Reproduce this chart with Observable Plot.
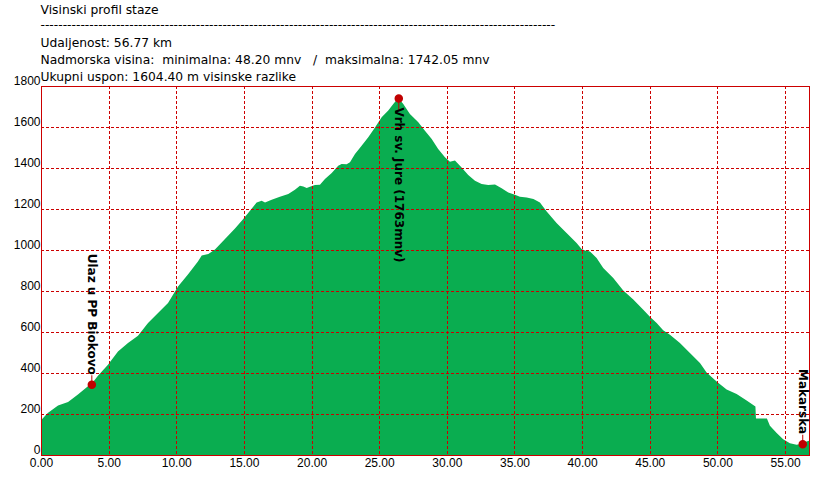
<!DOCTYPE html>
<html><head><meta charset="utf-8">
<script src="https://cdn.jsdelivr.net/npm/d3@7"></script>
<script src="https://cdn.jsdelivr.net/npm/@observablehq/plot@0.6"></script>
<style>body{margin:0;background:#fff} svg{display:block} svg text{white-space:pre}</style>
</head><body><div id="chart"></div>
<script>
const distanceKm = [0, 0.5, 1.26, 2.0, 2.73, 3.47, 3.72, 4.21, 4.95, 5.69,
  6.43, 7.17, 7.91, 8.65, 9.39, 10.13, 10.86, 11.6, 11.88, 12.37,
  12.86, 13.6, 14.34, 14.95, 15.45, 15.94, 16.31, 16.56, 17.05, 17.66,
  18.28, 18.77, 19.14, 19.39, 19.64, 19.88, 20.25, 20.62, 20.99, 21.49,
  21.97, 22.22, 22.59, 22.84, 23.21, 23.7, 24.19, 24.69, 25.18, 25.67,
  26.04, 26.41, 26.78, 27.27, 27.89, 28.38, 28.88, 29.36, 29.86, 30.23,
  30.6, 31.09, 31.58, 32.08, 32.57, 33.06, 33.56, 34.05, 34.54, 35.03,
  35.4, 35.9, 36.4, 36.88, 37.38, 38.11, 38.85, 39.59, 39.96, 40.21,
  40.58, 41.07, 41.56, 42.3, 43.04, 43.78, 44.52, 45.01, 45.51, 45.99,
  46.49, 47.23, 47.97, 48.71, 49.2, 49.94, 50.68, 51.42, 52.16, 52.81,
  52.85, 53.66, 53.88, 54.38, 54.86, 55.36, 55.85, 56.27, 56.59, 56.77];
const elevationM = [170, 205, 242, 258, 295, 335, 345, 387, 440, 505,
  546, 582, 644, 693, 741, 822, 880, 944, 973, 980,
  1003, 1054, 1105, 1151, 1192, 1232, 1240, 1232, 1245, 1260,
  1273, 1294, 1313, 1310, 1302, 1309, 1317, 1318, 1346, 1376,
  1411, 1420, 1418, 1428, 1468, 1509, 1550, 1598, 1647, 1680,
  1712, 1742, 1712, 1663, 1623, 1582, 1541, 1493, 1452, 1431,
  1436, 1403, 1366, 1338, 1322, 1317, 1320, 1301, 1281, 1270,
  1260, 1256, 1249, 1232, 1188, 1132, 1083, 1034, 1005, 998,
  993, 961, 912, 863, 802, 758, 709, 675, 644, 608,
  587, 546, 498, 449, 403, 359, 319, 298, 266, 236,
  178, 178, 143, 107, 77, 57, 50, 55, 66, 70];

const placeNames = ["Ulaz u PP Biokovo", "Vrh sv. Jure (1763mnv)", "Makarska"];
const placeKm = [3.72, 26.41, 56.27];
const placeElev = [345, 1742, 55];
const placeBelow = [false, true, false];

const xTicks = [0, 5, 10, 15, 20, 25, 30, 35, 40, 45, 50, 55];
const yTicks = [0, 200, 400, 600, 800, 1000, 1200, 1400, 1600, 1800];

const headerTitle = "Visinski profil staze";
const headerRule = "-".repeat(116);
const headerDistance = "Udaljenost: 56.77 km";
const headerAltitude = "Nadmorska visina:  minimalna: 48.20 mnv   /  maksimalna: 1742.05 mnv";
const headerClimb = "Ukupni uspon: 1604.40 m visinske razlike";

const profile = distanceKm.map((k, i) => ({km: k, elev: elevationM[i]}));
const places = placeNames.map((n, i) => ({name: n, km: placeKm[i], elev: placeElev[i], below: placeBelow[i]}));
const placesUp = places.filter(d => !d.below);
const placesDown = places.filter(d => d.below);

const RED = "#cc0000";
const DOTRED = "#c00000";
const GREEN = "#0aad50";
const TICKFONT = "Liberation Sans, Arial, sans-serif";

const hdr = (t, dy) => Plot.text([t], {frameAnchor: "top-left", text: d => d, textAnchor: "start", lineAnchor: "middle", dx: -1, dy, fontSize: 12.3, fill: "black"});

const chart = Plot.plot({
  width: 829,
  height: 479,
  marginLeft: 41,
  marginRight: 20,
  marginTop: 86,
  marginBottom: 24,
  style: {fontFamily: "DejaVu Sans, sans-serif", fontSize: "12px", background: "white", overflow: "visible"},
  x: {domain: [0, 56.77], label: null},
  y: {domain: [0, 1800], label: null},
  marks: [
    Plot.areaY(profile, {x: "km", y: "elev", fill: GREEN}),
    Plot.ruleX(xTicks.filter(d => d > 0), {x: d => d, stroke: RED, strokeWidth: 1, strokeDasharray: "3,2", shapeRendering: "crispEdges"}),
    Plot.ruleY(yTicks.filter(d => d > 0 && d < 1800), {y: d => d, stroke: RED, strokeWidth: 1, strokeDasharray: "3,2", shapeRendering: "crispEdges"}),
    Plot.frame({stroke: RED, shapeRendering: "crispEdges"}),
    Plot.axisX({ticks: xTicks, tickFormat: d => d.toFixed(2), tickSize: 0, tickPadding: 3, fontSize: 12, fontFamily: TICKFONT, fill: "black"}),
    Plot.axisY({ticks: yTicks, tickFormat: d => String(d), tickSize: 0, tickPadding: 1, dy: -5, fontSize: 12, fontFamily: TICKFONT, fill: "black"}),
    Plot.ruleX(placesUp, {x: "km", y1: "elev", y2: "elev", insetTop: -9, stroke: DOTRED}),
    Plot.ruleX(placesDown, {x: "km", y1: "elev", y2: "elev", insetBottom: -12, stroke: DOTRED}),
    Plot.dot(places, {x: "km", y: "elev", r: 3.5, fill: DOTRED, stroke: DOTRED}),
    Plot.text(placesUp, {x: "km", y: "elev", text: "name", rotate: 90, textAnchor: "end", lineAnchor: "middle", dy: -10, fontWeight: "bold", fontSize: 12, fill: "black"}),
    Plot.text(placesDown, {x: "km", y: "elev", text: "name", rotate: 90, textAnchor: "start", lineAnchor: "middle", dy: 9, fontWeight: "bold", fontSize: 12, fill: "black"}),
    hdr(headerTitle, -76),
    hdr(headerRule, -61),
    hdr(headerDistance, -43),
    hdr(headerAltitude, -26),
    hdr(headerClimb, -9)
  ]
});
chart.setAttributeNS("http://www.w3.org/XML/1998/namespace", "xml:space", "preserve");
document.getElementById("chart").appendChild(chart);
</script>
</body></html>
